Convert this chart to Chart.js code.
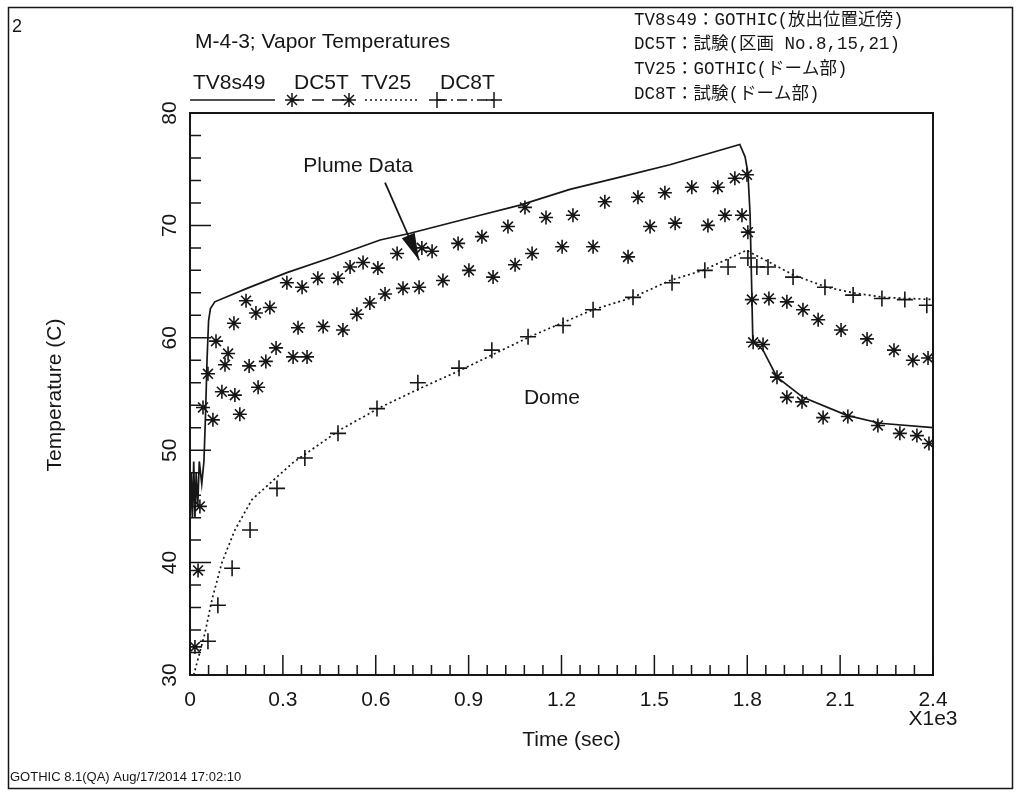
<!DOCTYPE html>
<html>
<head>
<meta charset="utf-8">
<title>M-4-3; Vapor Temperatures</title>
<script src="https://cdn.jsdelivr.net/npm/chart.js@4.4.1/dist/chart.umd.min.js"></script>
<style>
  body { margin: 0; background: #fff; }
  #myChart { display: block; width: 1021px; height: 792px; }
</style>
</head>
<body>
<canvas id="myChart" width="1021" height="792"></canvas>
<script>
const ctx = document.getElementById("myChart");
const ink = "#161616";

// axes
const xMin = 0, xMax = 2400, xMajorStep = 300, xMinorStep = 60;
const yMin = 30, yMax = 80, yMajorStep = 10, yMinorStep = 2;
const xTickVals = [0, 300, 600, 900, 1200, 1500, 1800, 2100, 2400];
const xTickLabels = ["0", "0.3", "0.6", "0.9", "1.2", "1.5", "1.8", "2.1", "2.4"];
const yTickVals = [30, 40, 50, 60, 70, 80];
const yTickLabels = ["30", "40", "50", "60", "70", "80"];

// TV8s49 : GOTHIC (near the release point) - solid line
const tv8Time = [0, 4, 8, 12, 16, 20, 25, 30, 38, 45, 50, 55, 60, 66, 80, 184, 313, 452, 614, 711, 937, 1066, 1227, 1389, 1550, 1776, 1793, 1802, 1809, 1815, 1818, 1851, 1896, 1980, 2122, 2229, 2400];
const tv8Temp = [43, 48, 44, 49, 44, 48, 45, 49, 47, 49, 53, 58, 61.5, 62.6, 63.2, 64.4, 65.8, 67.1, 68.7, 69.3, 70.9, 71.8, 73.2, 74.3, 75.4, 77.2, 76.1, 74.7, 71.1, 63.6, 59.8, 58.9, 56.5, 54.7, 53.1, 52.4, 52.0];

// DC5T : test, three compartments - asterisks
const dc5tTimeA = [84, 142, 181, 213, 258, 313, 362, 413, 478, 517, 559, 607, 669, 749, 782, 866, 943, 1027, 1082, 1150, 1237, 1340, 1447, 1534, 1621, 1705, 1760, 1799, 1819, 1851, 1896, 1928, 1977, 2045, 2125, 2222, 2293, 2348, 2387];
const dc5tTempA = [59.7, 61.3, 63.3, 62.2, 62.7, 64.9, 64.5, 65.3, 65.3, 66.3, 66.7, 66.2, 67.5, 68.0, 67.7, 68.4, 69.0, 69.9, 71.6, 70.7, 70.9, 72.1, 72.5, 72.9, 73.4, 73.4, 74.2, 74.5, 59.6, 59.4, 56.5, 54.7, 54.3, 52.9, 53.0, 52.2, 51.5, 51.3, 50.6];
const dc5tTimeB = [58, 123, 278, 349, 430, 494, 539, 581, 630, 688, 740, 817, 901, 979, 1050, 1105, 1202, 1302, 1415, 1486, 1567, 1673, 1728, 1783, 1802, 1815, 1870, 1928, 1980, 2029, 2103, 2187, 2274, 2335, 2384];
const dc5tTempB = [56.8, 58.6, 59.1, 60.9, 61.0, 60.7, 62.1, 63.1, 63.9, 64.4, 64.5, 65.1, 66.0, 65.4, 66.5, 67.5, 68.1, 68.1, 67.2, 69.9, 70.2, 70.0, 70.9, 70.9, 69.4, 63.4, 63.5, 63.2, 62.5, 61.6, 60.7, 59.9, 58.9, 58.0, 58.2];
const dc5tTimeC = [16, 26, 32, 42, 74, 103, 113, 145, 161, 191, 220, 245, 333, 378];
const dc5tTempC = [32.5, 39.3, 45.0, 53.8, 52.7, 55.2, 57.6, 54.9, 53.2, 57.5, 55.6, 57.9, 58.3, 58.3];

// TV25 : GOTHIC (dome) - dotted line
const tv25Time = [12, 48, 71, 103, 145, 200, 268, 333, 484, 614, 743, 872, 1098, 1302, 1431, 1550, 1657, 1799, 1809, 1873, 1948, 2057, 2142, 2239, 2400];
const tv25Temp = [30.0, 33.7, 36.7, 40.0, 42.9, 45.6, 47.3, 48.9, 51.8, 53.8, 55.5, 57.1, 60.1, 62.5, 63.6, 65.1, 66.0, 67.8, 67.6, 66.7, 65.6, 64.5, 64.0, 63.6, 63.4];

// DC8T : test (dome) - plus marks
const dc8tTime = [58, 90, 136, 194, 281, 371, 478, 604, 736, 869, 975, 1092, 1205, 1302, 1431, 1557, 1663, 1738, 1802, 1831, 1867, 1948, 2051, 2142, 2235, 2309, 2380];
const dc8tTemp = [33.0, 36.2, 39.5, 42.9, 46.6, 49.3, 51.5, 53.7, 56.0, 57.3, 58.9, 60.1, 61.1, 62.5, 63.6, 64.9, 66.0, 66.3, 67.1, 66.3, 66.3, 65.4, 64.5, 63.8, 63.5, 63.4, 62.9];

// annotations in data units [time, temp]
const plumeLabelAt = [543, 75.3];
const arrowFrom = [630, 73.8];
const arrowTo = [740, 66.9];
const domeLabelAt = [1169, 54.6];

const noteLines = [
  "TV8s49：GOTHIC(放出位置近傍)",
  "DC5T：試験(区画 No.8,15,21)",
  "TV25：GOTHIC(ドーム部)",
  "DC8T：試験(ドーム部)"
];

function pts(ts, vs) {
  return ts.map((t, i) => ({ x: t, y: vs[i] }));
}

function star(c, x, y, r) {
  c.beginPath();
  for (let k = 0; k < 4; k++) {
    const a = (k * Math.PI) / 4;
    c.moveTo(x - r * Math.cos(a), y - r * Math.sin(a));
    c.lineTo(x + r * Math.cos(a), y + r * Math.sin(a));
  }
  c.stroke();
}

function plus(c, x, y, r) {
  c.beginPath();
  c.moveTo(x - r, y);
  c.lineTo(x + r, y);
  c.moveTo(x, y - r);
  c.lineTo(x, y + r);
  c.stroke();
}

const sans = "'Liberation Sans', Arial, sans-serif";

const paper = {
  id: "paper",
  afterDraw(chart) {
    const c = chart.ctx;
    const xs = chart.scales.x;
    const ys = chart.scales.y;
    const a = chart.chartArea;
    c.save();
    c.strokeStyle = ink;
    c.fillStyle = ink;

    // page frame
    c.lineWidth = 1.5;
    c.strokeRect(8.5, 7.5, 1004, 781);

    // plot box
    c.lineWidth = 2;
    c.strokeRect(a.left, a.top, a.right - a.left, a.bottom - a.top);

    // ticks pointing into the plot
    c.lineWidth = 1.5;
    c.beginPath();
    for (let v = yMin; v <= yMax; v += yMinorStep) {
      const py = ys.getPixelForValue(v);
      const len = v % yMajorStep === 0 ? 21 : 11;
      c.moveTo(a.left, py);
      c.lineTo(a.left + len, py);
    }
    for (let v = xMin; v <= xMax; v += xMinorStep) {
      const px = xs.getPixelForValue(v);
      const len = v % xMajorStep === 0 ? 20 : 10;
      c.moveTo(px, a.bottom);
      c.lineTo(px, a.bottom - len);
    }
    c.stroke();

    // tick labels
    c.font = "21px " + sans;
    c.textAlign = "center";
    c.textBaseline = "middle";
    xTickVals.forEach((v, i) => {
      c.fillText(xTickLabels[i], xs.getPixelForValue(v), a.bottom + 25);
    });
    c.fillText("X1e3", a.right, a.bottom + 44);
    yTickVals.forEach((v, i) => {
      c.save();
      c.translate(a.left - 20, ys.getPixelForValue(v));
      c.rotate(-Math.PI / 2);
      c.fillText(yTickLabels[i], 0, 0);
      c.restore();
    });

    // axis titles
    c.fillText("Time (sec)", (a.left + a.right) / 2 + 10, 740);
    c.save();
    c.translate(55, 395);
    c.rotate(-Math.PI / 2);
    c.fillText("Temperature (C)", 0, 0);
    c.restore();

    // title and page number
    c.textAlign = "left";
    c.fillText("M-4-3; Vapor Temperatures", 195, 42);
    c.font = "18px " + sans;
    c.fillText("2", 12, 27);

    // legend
    c.font = "21px " + sans;
    c.fillText("TV8s49", 193, 83);
    c.fillText("DC5T", 294, 83);
    c.fillText("TV25", 361, 83);
    c.fillText("DC8T", 440, 83);
    const ly = 100;
    c.lineWidth = 1.5;
    c.beginPath();
    c.moveTo(190, ly);
    c.lineTo(275, ly);
    c.stroke();
    c.setLineDash([12, 8]);
    c.beginPath();
    c.moveTo(292, ly);
    c.lineTo(349, ly);
    c.stroke();
    c.setLineDash([2, 3]);
    c.beginPath();
    c.moveTo(365, ly);
    c.lineTo(420, ly);
    c.stroke();
    c.setLineDash([10, 4, 2, 4]);
    c.beginPath();
    c.moveTo(437, ly);
    c.lineTo(494, ly);
    c.stroke();
    c.setLineDash([]);
    star(c, 292, ly, 7);
    star(c, 349, ly, 7);
    plus(c, 437, ly, 8);
    plus(c, 494, ly, 8);

    // annotations
    c.textAlign = "center";
    c.fillText("Plume Data", xs.getPixelForValue(plumeLabelAt[0]), ys.getPixelForValue(plumeLabelAt[1]));
    c.fillText("Dome", xs.getPixelForValue(domeLabelAt[0]), ys.getPixelForValue(domeLabelAt[1]));
    const x1 = xs.getPixelForValue(arrowFrom[0]), y1 = ys.getPixelForValue(arrowFrom[1]);
    const x2 = xs.getPixelForValue(arrowTo[0]), y2 = ys.getPixelForValue(arrowTo[1]);
    const ang = Math.atan2(y2 - y1, x2 - x1);
    c.lineWidth = 1.8;
    c.beginPath();
    c.moveTo(x1, y1);
    c.lineTo(x2, y2);
    c.stroke();
    c.beginPath();
    c.moveTo(x2, y2);
    c.lineTo(x2 - 27 * Math.cos(ang) + 7 * Math.sin(ang), y2 - 27 * Math.sin(ang) - 7 * Math.cos(ang));
    c.lineTo(x2 - 27 * Math.cos(ang) - 7 * Math.sin(ang), y2 - 27 * Math.sin(ang) + 7 * Math.cos(ang));
    c.closePath();
    c.fill();

    // Japanese note, top right
    c.textAlign = "left";
    c.font = "17.5px 'Liberation Mono', 'Noto Sans CJK JP', monospace";
    noteLines.forEach((s, i) => {
      c.fillText(s, 634, 20 + i * 24.7);
    });

    // footer
    c.font = "13px " + sans;
    c.fillText("GOTHIC 8.1(QA) Aug/17/2014 17:02:10", 10, 777);
    c.restore();
  }
};

const dc5tPoints = [
  ...pts(dc5tTimeA, dc5tTempA),
  ...pts(dc5tTimeB, dc5tTempB),
  ...pts(dc5tTimeC, dc5tTempC)
];

new Chart(ctx, {
  type: "scatter",
  data: {
    datasets: [
      {
        label: "TV8s49",
        data: pts(tv8Time, tv8Temp),
        showLine: true,
        borderColor: ink,
        borderWidth: 1.7,
        pointRadius: 0,
        tension: 0
      },
      {
        label: "DC5T",
        data: dc5tPoints,
        showLine: false,
        pointStyle: "star",
        pointRadius: 7,
        borderColor: ink,
        backgroundColor: "rgba(0,0,0,0)",
        pointBorderWidth: 1.6
      },
      {
        label: "TV25",
        data: pts(tv25Time, tv25Temp),
        showLine: true,
        borderColor: ink,
        borderWidth: 1.7,
        borderDash: [2, 3],
        pointRadius: 0,
        tension: 0
      },
      {
        label: "DC8T",
        data: pts(dc8tTime, dc8tTemp),
        showLine: false,
        pointStyle: "cross",
        pointRadius: 8,
        borderColor: ink,
        backgroundColor: "rgba(0,0,0,0)",
        pointBorderWidth: 1.6
      }
    ]
  },
  options: {
    responsive: false,
    animation: false,
    events: [],
    layout: { padding: { left: 0, top: 113, right: 88, bottom: 0 } },
    plugins: { legend: { display: false }, tooltip: { enabled: false }, title: { display: false } },
    scales: {
      x: {
        type: "linear",
        min: xMin,
        max: xMax,
        grid: { display: false },
        border: { display: false },
        ticks: { display: false },
        afterFit(s) { s.height = 117; }
      },
      y: {
        type: "linear",
        min: yMin,
        max: yMax,
        grid: { display: false },
        border: { display: false },
        ticks: { display: false },
        afterFit(s) { s.width = 190; }
      }
    }
  },
  plugins: [paper]
});
</script>
</body>
</html>
